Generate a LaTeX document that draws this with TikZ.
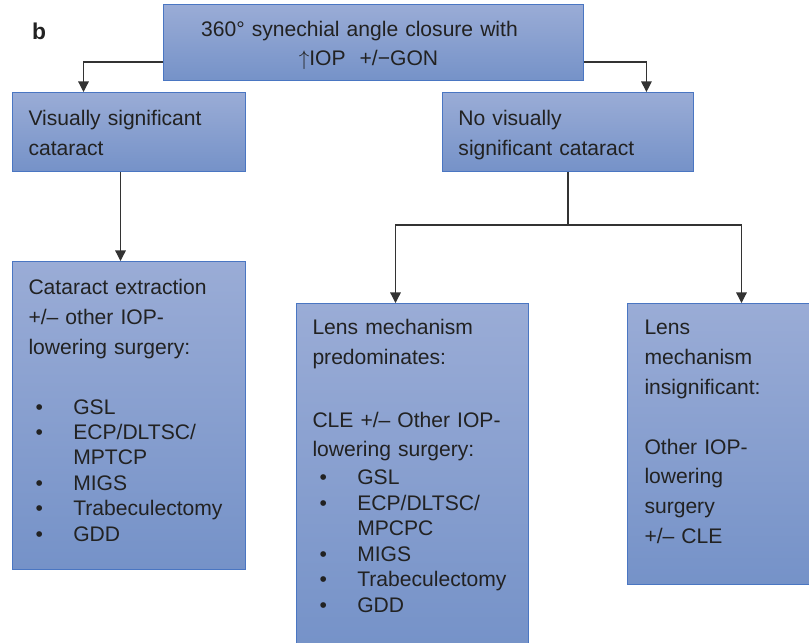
\documentclass[tikz,border=0pt]{standalone}
\usepackage{fontspec}
\setmainfont{Liberation Sans}
\usepackage{xcolor}
\usetikzlibrary{arrows.meta,positioning,calc}
\definecolor{xedge}{HTML}{4A76C2}
\definecolor{xtop}{HTML}{9AACD6}
\definecolor{xbot}{HTML}{7592C8}
\definecolor{xink}{HTML}{222222}
\definecolor{xwire}{HTML}{333333}
\newcommand{\itm}[1]{\hspace*{4pt}\makebox[21.5pt][l]{\textbullet}#1}
\newcommand{\cont}[1]{\hspace*{25.5pt}#1}

\begin{document}
\begin{tikzpicture}[
    x=0.02cm, y=-0.02cm,
    >={Triangle[width=6pt,length=6pt]},
    box/.style={rectangle, draw=xedge, line width=0.6pt, top color=xtop, bottom color=xbot,
        anchor=north west, align=left, inner ysep=0pt, inner xsep=0.32cm,
        text=xink, font=\fontsize{12}{17}\selectfont},
    flow/.style={->, line width=0.7pt, color=xwire},
]
\useasboundingbox (0,0) rectangle (809,643);
\clip (0,0) rectangle (809,643);

% --- Panel tag ---
\node[font=\bfseries\fontsize{13}{13}\selectfont, text=xink, anchor=base west] (tagb) at (26,39) {b};

% --- Root ---
\node[box, align=center, inner xsep=0.2cm, text width=8.0cm, text height=0.64cm, text depth=0.88cm] (top) at (163,4)
    {360° synechial angle closure with\rule{0.56cm}{0pt}\\[-0.6pt]$\uparrow$IOP\ \ +/−GON\rule{0.2cm}{0pt}};

% --- Cataract branch ---
\node[box, text width=4.02cm, text height=0.66cm, text depth=0.92cm] (vis) at (12,92)
    {Visually significant\\cataract};
\node[box, right=3.92cm of vis.north east, anchor=north west, text width=4.38cm, text height=0.66cm, text depth=0.92cm] (novis)
    {No visually\\significant cataract};

% --- Treatments ---
\node[box, below=1.78cm of vis.south west, anchor=north west, text width=4.02cm, text height=0.66cm, text depth=5.5cm] (cat)
    {Cataract extraction\\
     +/– other IOP-\\
     lowering surgery:\\[17pt]
     \itm{GSL}\\[-2.5pt]
     \itm{ECP/DLTSC/}\\[-2.5pt]
     \cont{MPTCP}\\[-2.5pt]
     \itm{MIGS}\\[-2.5pt]
     \itm{Trabeculectomy}\\[-2.5pt]
     \itm{GDD}};
\node[box, below=2.62cm of novis.south west, anchor=north west, xshift=-2.92cm, text width=4.0cm, text height=0.62cm, text depth=6.3cm] (pred)
    {Lens mechanism\\
     predominates:\\[18.7pt]
     CLE +/– Other IOP-\\
     lowering surgery:\\[-1.1pt]
     \itm{GSL}\\[-2.5pt]
     \itm{ECP/DLTSC/}\\[-2.5pt]
     \cont{MPCPC}\\[-2.5pt]
     \itm{MIGS}\\[-2.5pt]
     \itm{Trabeculectomy}\\[-2.5pt]
     \itm{GDD}};
\node[box, right=1.96cm of pred.north east, anchor=north west, inner xsep=0.34cm, text width=3.32cm, text height=0.62cm, text depth=5.0cm] (insig)
    {Lens\\
     mechanism\\
     insignificant:\\[17pt]
     Other IOP-\\
     lowering\\
     surgery\\
     +/– CLE};

% --- Connectors ---
\draw[flow] ([yshift=0.38cm]top.south west) -| ([xshift=-0.91cm]vis.north);
\draw[flow] ([yshift=0.38cm]top.south east) -| ([xshift=1.57cm]novis.north);
\draw[flow] ([xshift=-0.17cm]vis.south) -- ([xshift=-0.17cm]cat.north);
\coordinate[below=1.06cm of novis.south] (split);
\draw[line width=0.7pt, color=xwire] (novis.south) -- (split);
\draw[flow] (split) -| ([xshift=-0.34cm]pred.north);
\draw[flow] (split) -| ([xshift=0.28cm]insig.north);

\end{tikzpicture}
\end{document}
